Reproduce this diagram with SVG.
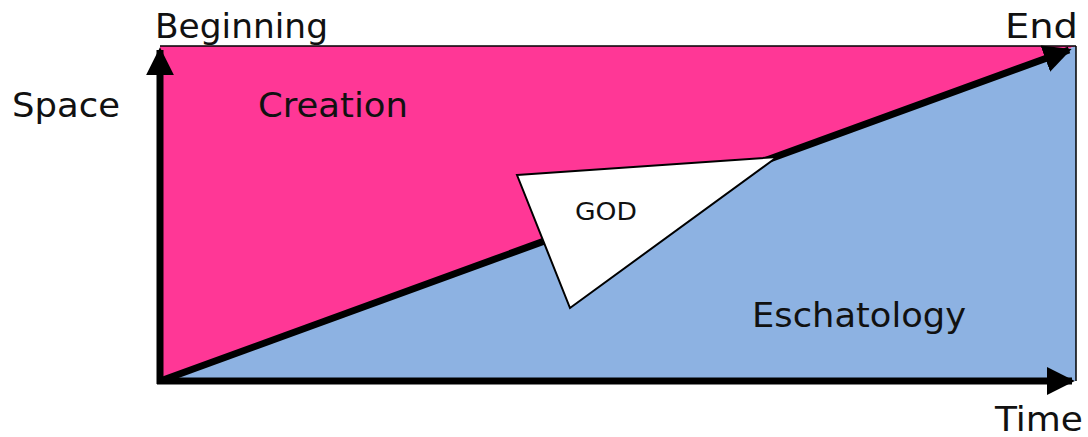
<svg xmlns="http://www.w3.org/2000/svg" width="1088" height="437" viewBox="0 0 1088 437">
  <style>
    text { font-family: "DejaVu Sans", Verdana, sans-serif; fill: #111; }
    .big { font-size: 34px; }
    .axis { stroke: #000; stroke-width: 7; fill: none; }
    .thin { stroke: #000; stroke-width: 1.5; fill: none; }
  </style>
  <defs>
    <marker id="ah" viewBox="0 0 10 10" refX="9" refY="5" markerWidth="4" markerHeight="4" markerUnits="strokeWidth" orient="auto">
      <path d="M0,0 L10,5 L0,10 Z" fill="#000"/>
    </marker>
  </defs>
  <rect width="1088" height="437" fill="#fff"/>
  <g id="creation-region">
    <polygon points="160,46 1076,46 162,381" fill="#FF3796"/>
  </g>
  <g id="eschatology-region">
    <polygon points="162,381 1076,46 1076,381" fill="#8DB2E2"/>
  </g>
  <g id="frame">
    <line class="thin" x1="160" y1="46" x2="1076" y2="46"/>
    <line class="thin" x1="1076" y1="46" x2="1076" y2="381"/>
  </g>
  <g id="connectors">
    <line class="axis" x1="160" y1="384" x2="160" y2="50" marker-end="url(#ah)"/>
    <line class="axis" x1="157" y1="381" x2="1072" y2="381" marker-end="url(#ah)"/>
    <line class="axis" x1="163" y1="380" x2="1069" y2="50" marker-end="url(#ah)"/>
  </g>
  <g id="god">
    <polygon points="517,175 777,157 570,308" fill="#fff" stroke="#000" stroke-width="2"/>
    <text x="575" y="220" font-size="25" textLength="62" lengthAdjust="spacingAndGlyphs">GOD</text>
  </g>
  <g id="labels">
    <text class="big" x="155" y="38" textLength="173" lengthAdjust="spacingAndGlyphs">Beginning</text>
    <text class="big" x="1005" y="38" textLength="73" lengthAdjust="spacingAndGlyphs">End</text>
    <text class="big" x="12" y="117" textLength="108" lengthAdjust="spacingAndGlyphs">Space</text>
    <text class="big" x="258" y="117" textLength="150" lengthAdjust="spacingAndGlyphs">Creation</text>
    <text class="big" x="752" y="327" textLength="214" lengthAdjust="spacingAndGlyphs">Eschatology</text>
    <text class="big" x="995" y="431" textLength="88" lengthAdjust="spacingAndGlyphs">Time</text>
  </g>
</svg>
